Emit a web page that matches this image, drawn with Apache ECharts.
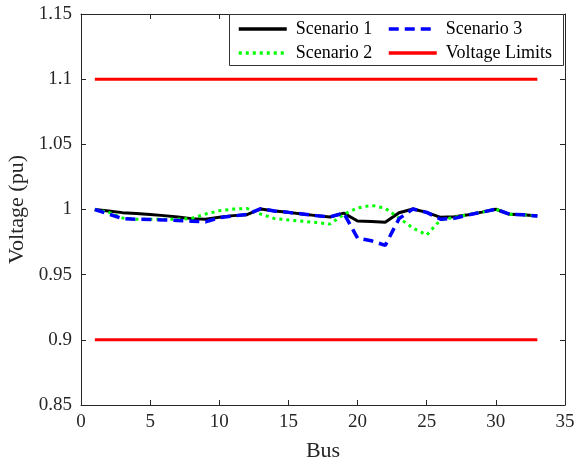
<!DOCTYPE html>
<html>
<head>
<meta charset="utf-8">
<script src="https://cdn.jsdelivr.net/npm/echarts@6/dist/echarts.min.js"></script>
<style>
  html, body { margin: 0; padding: 0; background: #fff; }
  #chart { width: 575px; height: 463px; }
</style>
</head>
<body>
<div id="chart"></div>
<script>
// ---- Data ----
const buses = [1,2,3,4,5,6,7,8,9,10,11,12,13,14,15,16,17,18,19,20,21,22,23,24,25,26,27,28,29,30,31,32,33];
const scenario1 = [1.0, 0.9988, 0.9976, 0.997, 0.9962, 0.9953, 0.9942, 0.993, 0.9925, 0.994, 0.9953, 0.996, 1.0004, 0.9988, 0.9978, 0.9966, 0.9953, 0.9943, 0.9972, 0.9912, 0.9908, 0.9902, 0.9975, 1.0004, 0.9978, 0.994, 0.9945, 0.996, 0.998, 1.0002, 0.9963, 0.996, 0.995];
const scenario2 = [1.0, 0.9978, 0.9935, 0.9925, 0.9925, 0.9925, 0.9925, 0.9932, 0.9965, 0.999, 1.0003, 1.0008, 0.9965, 0.993, 0.992, 0.991, 0.990, 0.9888, 0.9962, 1.0012, 1.0032, 1.001, 0.9935, 0.9858, 0.9805, 0.992, 0.994, 0.996, 0.998, 1.0002, 0.9963, 0.996, 0.995];
const scenario3 = [1.0, 0.9965, 0.993, 0.9925, 0.9923, 0.992, 0.9915, 0.991, 0.9905, 0.9937, 0.995, 0.9962, 1.0006, 0.9988, 0.9978, 0.9966, 0.9953, 0.9943, 0.9972, 0.978, 0.976, 0.9725, 0.993, 1.0004, 0.9978, 0.9925, 0.9932, 0.9958, 0.998, 1.0002, 0.9963, 0.996, 0.995];
const limitBuses = [1, 33];
const upperLimit = [1.1, 1.1];
const lowerLimit = [0.9, 0.9];
const xTicks = [0, 5, 10, 15, 20, 25, 30, 35];
const yTicks = [0.85, 0.9, 0.95, 1, 1.05, 1.1, 1.15];

// ---- Chart ----
const FONT = '"Liberation Serif", "Times New Roman", serif';
const AX = '#262626';
const pairs = (xs, ys) => xs.map((x, i) => [x, ys[i]]);
const fmt = v => String(parseFloat(Number(v).toFixed(2)));

const chart = echarts.init(document.getElementById('chart'), null, { renderer: 'canvas' });

const axisCommon = {
  axisLine: { show: true, onZero: false, lineStyle: { color: AX, width: 1 } },
  axisTick: { show: true, inside: true, length: 5, lineStyle: { color: AX } },
  splitLine: { show: false }
};

const legendCommon = {
  orient: 'vertical', top: 20, padding: 0, itemGap: 6, itemWidth: 48, itemHeight: 14, z: 5,
  itemStyle: { opacity: 0, borderWidth: 0 },
  lineStyle: { width: 3.5 },
  textStyle: { fontFamily: FONT, fontSize: 18, color: '#000', padding: [0, 0, 0, 4] }
};

chart.setOption({
  backgroundColor: '#fff',
  animation: false,
  grid: { left: 81, right: 10, top: 14, bottom: 58, containLabel: false, outerBoundsMode: 'none' },
  graphic: [{
    type: 'rect', left: 229, top: 14, z: 3,
    shape: { width: 334, height: 51 },
    style: { fill: '#fff', stroke: '#333', lineWidth: 1 }
  }],
  legend: [
    Object.assign({ data: ['Scenario 1', 'Scenario 2'], left: 237 }, legendCommon),
    Object.assign({ data: ['Scenario 3', 'Voltage Limits'], left: 387 }, legendCommon)
  ],
  xAxis: [
    Object.assign({
      type: 'value', position: 'bottom', min: xTicks[0], max: xTicks[xTicks.length - 1], interval: 5,
      name: 'Bus', nameLocation: 'middle', nameGap: 35,
      nameTextStyle: { fontFamily: FONT, fontSize: 22, color: AX },
      axisLabel: { fontFamily: FONT, fontSize: 19, color: AX, margin: 8, formatter: fmt }
    }, axisCommon),
    Object.assign({
      type: 'value', position: 'top', min: xTicks[0], max: xTicks[xTicks.length - 1], interval: 5,
      axisLabel: { show: false }
    }, axisCommon)
  ],
  yAxis: [
    Object.assign({
      type: 'value', position: 'left', min: yTicks[0], max: yTicks[yTicks.length - 1], interval: 0.05,
      name: 'Voltage (pu)', nameLocation: 'middle', nameGap: 43,
      nameTextStyle: { fontFamily: FONT, fontSize: 22, color: AX },
      axisLabel: { fontFamily: FONT, fontSize: 19, color: AX, margin: 9, formatter: fmt }
    }, axisCommon),
    Object.assign({
      type: 'value', position: 'right', min: yTicks[0], max: yTicks[yTicks.length - 1], interval: 0.05,
      axisLabel: { show: false }
    }, axisCommon)
  ],
  series: [
    {
      name: 'Scenario 1', type: 'line', data: pairs(buses, scenario1), showSymbol: false, symbol: 'none',
      lineStyle: { color: '#000000', width: 3 }, itemStyle: { color: '#000000' }, z: 2
    },
    {
      name: 'Scenario 2', type: 'line', data: pairs(buses, scenario2), showSymbol: false, symbol: 'none',
      lineStyle: { color: '#00ff00', width: 3, type: [3, 4] }, itemStyle: { color: '#00ff00' }, z: 2
    },
    {
      name: 'Scenario 3', type: 'line', data: pairs(buses, scenario3), showSymbol: false, symbol: 'none',
      lineStyle: { color: '#0000ff', width: 3.5, type: [10, 6] }, itemStyle: { color: '#0000ff' }, z: 2
    },
    {
      name: 'Voltage Limits', type: 'line', data: pairs(limitBuses, upperLimit), showSymbol: false, symbol: 'none',
      lineStyle: { color: '#ff0000', width: 3 }, itemStyle: { color: '#ff0000' }, z: 2
    },
    {
      name: 'Voltage Limits', type: 'line', data: pairs(limitBuses, lowerLimit), showSymbol: false, symbol: 'none',
      lineStyle: { color: '#ff0000', width: 3 }, itemStyle: { color: '#ff0000' }, z: 2
    }
  ]
});
</script>
</body>
</html>
